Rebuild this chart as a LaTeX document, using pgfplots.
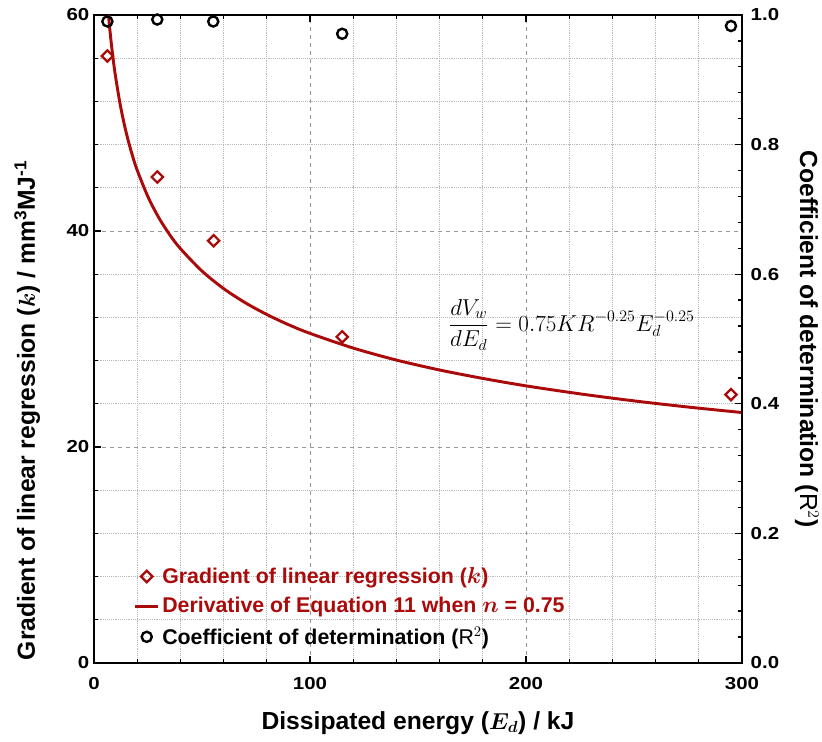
\documentclass[border=0pt]{standalone}
\usepackage{fontspec}
\setmainfont{Liberation Sans}
\newfontfamily\tickfont[FakeStretch=1.18]{Liberation Sans}
\usepackage{bm}
\usepackage{pgfplots}
\pgfplotsset{compat=1.18}
\definecolor{dred}{RGB}{170,10,10}
\pgfplotstableread{
x y
6.2 56.2
29.3 45.0
55.4 39.1
114.9 30.2
294.9 24.85
}\gradtab
\pgfplotstableread{
x y
6.7 60.0
7 59.33
8 57.38
9 55.71
10 54.27
12 51.85
14 49.89
16 48.25
18 46.85
20 45.63
25 43.16
30 41.23
35 39.67
40 38.37
50 36.29
60 34.67
70 33.36
80 32.27
90 31.33
100 30.52
120 29.16
140 28.05
160 27.13
180 26.35
200 25.66
225 24.92
250 24.27
275 23.70
300 23.19
}\curvetab
\pgfplotstableread{
x y
6.2 0.990
29.3 0.993
55.2 0.990
114.9 0.971
294.9 0.983
}\rtab
\begin{document}
\begin{tikzpicture}
\pgfplotsset{
  myax/.style={
    scale only axis, width=486pt, height=486pt,
    xmin=0, xmax=300,
    tick align=inside,
    major tick length=5.5pt, minor tick length=2.8pt,
    every tick/.style={black, line width=1pt},
    axis line style={line width=1.5pt},
    /pgf/number format/assume math mode=true,
    tick label style={font=\tickfont\bfseries\fontsize{13}{15}\selectfont},
    label style={font=\fontsize{18.5}{22}\selectfont\bfseries},
  }
}
\begin{axis}[myax, name=main,
  ymin=0, ymax=60,
  xtick={0,100,200,300}, minor x tick num=4,
  ytick={0,20,40,60}, minor y tick num=4,
  ytick pos=left, xticklabel pos=lower,
  xticklabel style={yshift=-7pt},
  grid=both,
  major grid style={gray!80, dashed, line width=0.6pt},
  minor grid style={gray!55, densely dotted, line width=0.6pt},
  xlabel={Dissipated energy ($\bm{E_d}$) / kJ},
  xlabel style={at={(axis description cs:0.5,-0.0926)}, anchor=center},
  ylabel={Gradient of linear regression ($\bm{k}$) / mm\textsuperscript{3}MJ\textsuperscript{-1}},
  ylabel style={at={(axis description cs:-0.103,0.39)}, anchor=center},
  legend cell align=left,
  legend style={at={(0.055,0.156)}, anchor=north west, draw=none, fill=none,
    font=\fontsize{16}{18}\selectfont\bfseries, row sep=5pt},
]
\addplot[only marks, mark=square, mark size=3pt,
  mark options={rotate=45, line width=1.7pt, draw=dred, fill=white}] table {\gradtab};
\addlegendentry{\textcolor{dred}{Gradient of linear regression ($\bm{k}$)}}
\addplot[dred, line width=2.2pt, smooth, no marks] table {\curvetab};
\addlegendentry{\textcolor{dred}{Derivative of Equation 11 when $\bm{n}$ = 0.75}}
\addlegendimage{only marks, mark=o, black, mark size=3.8pt, line width=1.8pt}
\addlegendentry{Coefficient of determination ($\mathrm{R}^2$)}
\node[anchor=west, font=\fontsize{16.5}{19}\selectfont] at (axis cs:162,31.3)
  {$\displaystyle\frac{dV_w}{dE_d}=0.75KR^{-0.25}E_d^{-0.25}$};
\end{axis}
\begin{axis}[myax,
  ymin=0, ymax=1,
  axis x line=none, axis y line*=right,
  ytick={0,0.2,0.4,0.6,0.8,1.0}, minor y tick num=4,
  yticklabel style={xshift=3pt, /pgf/number format/fixed, /pgf/number format/fixed zerofill, /pgf/number format/precision=1},
  ylabel={Coefficient of determination ($\mathrm{R}^2$)},
  ylabel style={at={(axis description cs:1.1,0.5)}, anchor=center, rotate=180},
  clip=false,
]
\addplot[only marks, mark=o, black, mark size=3.8pt, line width=1.8pt] table {\rtab};
\end{axis}
\pgfresetboundingbox
\path[use as bounding box] ([xshift=-70.5pt,yshift=-59.25pt]main.south west) rectangle ([xshift=60pt,yshift=11.25pt]main.north east);
\end{tikzpicture}
\end{document}
